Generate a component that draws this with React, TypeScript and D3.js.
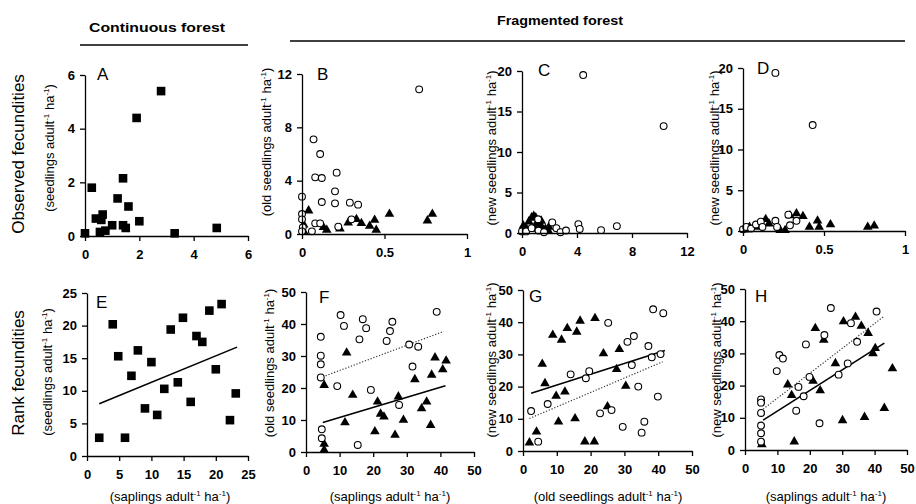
import React, { useEffect, useRef } from 'react';
import * as d3 from 'd3';

type Pt = [number, number];

// ---- data ----
// A: continuous forest, observed (saplings vs seedlings)
const aSquares: Pt[] = [
  [0.0, 0.1], [0.25, 1.8], [0.4, 0.65], [0.6, 0.6], [0.65, 0.8], [0.55, 0.15], [0.75, 0.2],
  [1.0, 0.4], [1.2, 1.4], [1.4, 2.15], [1.4, 0.4], [1.5, 0.3], [1.6, 1.1], [1.9, 4.4],
  [2.0, 0.55], [2.8, 5.4], [3.3, 0.1], [4.85, 0.3],
];

// B: fragmented, saplings vs old seedlings
const bCircles: Pt[] = [
  [0, 2.8], [0, 1.5], [0, 1.1], [0.005, 0.5], [0, 0.2], [0.07, 7.1], [0.08, 4.25], [0.11, 6.0],
  [0.12, 4.2], [0.12, 2.4], [0.08, 0.8], [0.11, 0.8], [0.06, 0.2], [0.21, 4.6], [0.2, 3.2],
  [0.2, 2.3], [0.22, 0.55], [0.29, 2.35], [0.34, 2.2], [0.3, 1.1], [0.71, 10.85],
];
const bTriangles: Pt[] = [
  [0.04, 1.75], [0.01, 0.7], [0.01, 0.2], [0.13, 0.5], [0.15, 0.3], [0.23, 0.4], [0.28, 0.85],
  [0.33, 1.1], [0.36, 0.8], [0.41, 0.6], [0.44, 1.05], [0.45, 0.3], [0.53, 1.5], [0.76, 1.0],
  [0.79, 1.5],
];

// C: old seedlings vs new seedlings
const cCircles: Pt[] = [
  [4.45, 19.5], [10.3, 13.2], [0, 0.2], [0.3, 0.2], [1.17, 1.7], [0.7, 0.6], [1.2, 0.3],
  [2.2, 1.3], [2.5, 0.6], [2.8, 0.1], [3.2, 0.3], [4.1, 1.1], [4.2, 0.5], [5.75, 0.35],
  [6.9, 0.85], [1.6, 0.1],
];
const cTriangles: Pt[] = [
  [0.05, 0.2], [0.3, 0.6], [0.5, 1.4], [0.7, 1.9], [0.85, 2.1], [1.0, 1.9], [1.25, 1.1],
  [1.45, 0.7], [1.7, 0.5], [1.9, 0.3], [0.65, 0.5], [0.95, 0.9], [1.4, 1.5], [1.95, 0.75],
  [0.1, 0.9],
];

// D: saplings vs new seedlings
const dCircles: Pt[] = [
  [0.2, 19.4], [0.43, 13.0], [0, 0.2], [0.02, 0.5], [0.05, 0.3], [0.08, 0.8], [0.11, 1.15],
  [0.12, 0.5], [0.2, 1.25], [0.21, 0.5], [0.29, 0.7], [0.33, 1.25], [0.28, 2.0],
];
const dTriangles: Pt[] = [
  [0.01, 0.15], [0.04, 0.5], [0.09, 0.5], [0.14, 1.45], [0.16, 0.9], [0.23, 0.1], [0.26, 0.1],
  [0.29, 1.9], [0.33, 2.15], [0.37, 1.8], [0.41, 0.5], [0.46, 1.25], [0.47, 0.5], [0.54, 0.8],
  [0.77, 0.5], [0.81, 0.65],
];

// E: continuous forest, ranks
const eSquares: Pt[] = [
  [1.9, 2.8], [4.0, 20.2], [4.85, 15.3], [5.9, 2.8], [6.9, 12.3], [7.9, 16.2], [9.0, 7.3],
  [10.0, 14.4], [10.9, 6.3], [12.0, 10.3], [13.0, 19.4], [14.1, 11.3], [14.9, 21.2], [16.1, 8.3],
  [17.0, 18.4], [17.9, 17.5], [19.0, 22.3], [20.0, 13.3], [20.9, 23.3], [22.2, 5.5], [23.1, 9.6],
];
const eFit: Pt[] = [[1.9, 8.0], [23.3, 16.7]];

// F: ranks, saplings vs old seedlings
const fCircles: Pt[] = [
  [4.4, 36.0], [4.4, 30.1], [4.4, 27.4], [4.4, 23.3], [4.7, 7.1], [4.7, 4.3], [9.3, 20.6],
  [10.3, 42.8], [11.3, 39.4], [15.4, 2.2], [15.9, 35.2], [16.9, 41.5], [17.9, 38.7], [19.3, 19.4],
  [24.0, 34.7], [25.0, 37.8], [25.7, 40.7], [27.7, 14.7], [30.7, 33.6], [31.7, 26.7], [33.4, 32.9],
  [38.9, 43.8],
];
const fTriangles: Pt[] = [
  [5.4, 20.9], [5.4, 2.5], [5.4, 0.6], [12.1, 31.0], [13.9, 17.8], [11.6, 9.2], [20.5, 6.4],
  [21.3, 15.7], [22.2, 11.9], [23.2, 11.0], [26.5, 5.3], [27.5, 17.3], [29.0, 10.0], [32.4, 22.7],
  [34.4, 13.6], [35.9, 15.7], [37.1, 8.4], [37.4, 24.1], [38.4, 29.5], [40.7, 25.8], [41.7, 28.5],
];
const fFitSolid: Pt[] = [[5, 9.2], [41.5, 20.7]];
const fFitDotted: Pt[] = [[5, 23.5], [41, 37.7]];

// G: ranks, old seedlings vs new seedlings
const gCircles: Pt[] = [
  [2.4, 12.4], [4.5, 2.9], [7.3, 14.6], [14.1, 23.8], [18.6, 22.6], [19.6, 24.8], [22.8, 11.7],
  [26.2, 12.7], [25.2, 39.8], [29.5, 7.5], [30.9, 33.9], [32.2, 26.7], [32.8, 35.7], [34.1, 20.0],
  [35.1, 5.7], [35.9, 9.1], [37.1, 32.6], [38.1, 29.1], [38.5, 44.0], [39.9, 16.9], [41.5, 42.8],
  [40.7, 30.1],
];
const gTriangles: Pt[] = [
  [1.9, 2.6], [4.0, 6.0], [5.7, 27.0], [6.5, 21.0], [8.8, 36.0], [9.8, 17.1], [10.5, 9.1],
  [11.4, 34.5], [12.4, 18.4], [13.1, 38.1], [15.4, 10.1], [15.9, 37.0], [16.9, 40.4], [18.3, 2.9],
  [21.1, 2.9], [21.3, 41.2], [23.8, 30.3], [25.0, 13.8], [27.7, 25.4], [28.5, 31.6], [30.4, 20.2],
];
const gFitSolid: Pt[] = [[2.4, 17.9], [42, 31.2]];
const gFitDotted: Pt[] = [[1.9, 10.1], [41.3, 27.7]];

// H: ranks, saplings vs new seedlings
const hCircles: Pt[] = [
  [4.95, 15.7], [4.95, 14.7], [4.95, 11.5], [4.95, 7.6], [4.95, 5.2], [4.95, 2.6], [9.8, 24.5],
  [10.6, 29.5], [11.7, 28.4], [15.8, 12.2], [16.5, 19.6], [18.1, 16.7], [18.8, 32.8], [19.9, 22.7],
  [23.0, 8.3], [24.5, 35.7], [26.5, 44.1], [28.9, 23.4], [31.7, 26.9], [32.7, 39.4], [34.6, 33.6],
  [40.6, 43.0],
];
const hTriangles: Pt[] = [
  [5.2, 1.7], [15.2, 2.6], [13.2, 20.3], [14.4, 17.0], [21.0, 21.4], [23.2, 18.5], [21.7, 37.8],
  [24.3, 34.2], [27.9, 26.9], [30.1, 9.2], [30.4, 39.9], [34.1, 41.3], [35.9, 38.5], [38.0, 36.3],
  [36.9, 10.2], [39.5, 30.0], [40.2, 31.6], [43.0, 13.0], [45.5, 25.3],
];
const hFitSolid: Pt[] = [[5.6, 9.3], [43, 33.2]];
const hFitDotted: Pt[] = [[5.6, 12.7], [43, 41.6]];

// ticks
const ticks0to6 = [0, 2, 4, 6];
const ticksFrac = [0, 0.5, 1];
const ticksB = [0, 4, 8, 12];
const ticksC = [0, 4, 8, 12];
const ticks0to20 = [0, 5, 10, 15, 20];
const ticks0to25 = [0, 5, 10, 15, 20, 25];
const ticks0to50 = [0, 10, 20, 30, 40, 50];

const FONT = '"Liberation Sans", Arial, Helvetica, sans-serif';

const App = () => {
  const ref = useRef<SVGSVGElement>(null);

  useEffect(() => {
    const svg = d3.select(ref.current);
    svg.selectAll('*').remove();

    // superscript helper: "(xxx adult-1 ha-1)"
    const unitText = (t: any, prefix: string) => {
      t.append('tspan').text(prefix + ' adult');
      t.append('tspan').text('-1').attr('font-size', 8).attr('dy', -5);
      t.append('tspan').text(' ha').attr('dy', 5);
      t.append('tspan').text('-1').attr('font-size', 8).attr('dy', -5);
      t.append('tspan').text(')').attr('dy', 5);
    };

    const panels = [
      { id: 'A', box: [85, 248, 75, 236], xMax: 6, yMax: 6, xt: ticks0to6, yt: ticks0to6, squares: aSquares,
        ylab: '(seedlings', ylx: 54, yly: 148, lx: 97, ly: 80 },
      { id: 'B', box: [302, 467, 74, 234], xMax: 1, yMax: 12, xt: ticksFrac, yt: ticksB, circles: bCircles, triangles: bTriangles,
        ylab: '(old seedlings', ylx: 271, yly: 142, lx: 317, ly: 80 },
      { id: 'C', box: [522, 687, 71, 233], xMax: 12, yMax: 20, xt: ticksC, yt: ticks0to20, circles: cCircles, triangles: cTriangles,
        ylab: '(new seedlings', ylx: 496, yly: 148, lx: 538, ly: 76 },
      { id: 'D', box: [743, 905, 68, 231], xMax: 1, yMax: 20, xt: ticksFrac, yt: ticks0to20, circles: dCircles, triangles: dTriangles,
        ylab: '(new seedlings', ylx: 719, yly: 148, lx: 757, ly: 74 },
      { id: 'E', box: [87, 248, 293, 456], xMax: 25, yMax: 25, xt: ticks0to25, yt: ticks0to25, squares: eSquares, solid: eFit,
        ylab: '(seedlings', ylx: 52, yly: 372, lx: 96, ly: 308, xlab: '(saplings', xlx: 170 },
      { id: 'F', box: [306, 474, 292, 452], xMax: 50, yMax: 50, xt: ticks0to50, yt: ticks0to50, circles: fCircles, triangles: fTriangles,
        solid: fFitSolid, dotted: fFitDotted,
        ylab: '(old seedlings', ylx: 274, yly: 363, lx: 319, ly: 303, xlab: '(saplings', xlx: 390 },
      { id: 'G', box: [523, 692, 290, 451], xMax: 50, yMax: 50, xt: ticks0to50, yt: ticks0to50, circles: gCircles, triangles: gTriangles,
        solid: gFitSolid, dotted: gFitDotted,
        ylab: '(new seedlings', ylx: 496, yly: 360, lx: 529, ly: 302, xlab: '(old seedlings', xlx: 608 },
      { id: 'H', box: [745, 907, 289, 450], xMax: 50, yMax: 50, xt: ticks0to50, yt: ticks0to50, circles: hCircles, triangles: hTriangles,
        solid: hFitSolid, dotted: hFitDotted,
        ylab: '(new seedlings', ylx: 721, yly: 360, lx: 755, ly: 302, xlab: '(saplings', xlx: 826 },
    ];

    const styleAxis = (g: any) => {
      g.select('.domain').attr('stroke', '#000').attr('stroke-width', 1.3);
      g.selectAll('.tick line').attr('stroke', '#000').attr('stroke-width', 1.3);
      g.selectAll('.tick text')
        .attr('fill', '#000')
        .style('font-family', FONT)
        .style('font-size', '13px')
        .style('font-weight', 'bold');
    };

    const tri = d3.symbol().type(d3.symbolTriangle).size(40);

    panels.forEach((p: any) => {
      const [l, r, t, b] = p.box;
      const x = d3.scaleLinear().domain([0, p.xMax]).range([l, r]);
      const y = d3.scaleLinear().domain([0, p.yMax]).range([b, t]);
      const g = svg.append('g');

      // fit lines
      const line = d3.line<Pt>().x((d) => x(d[0])).y((d) => y(d[1]));
      if (p.dotted) {
        g.append('path').attr('d', line(p.dotted)).attr('fill', 'none')
          .attr('stroke', '#333').attr('stroke-width', 1.2).attr('stroke-dasharray', '1.2,1.8');
      }
      if (p.solid) {
        g.append('path').attr('d', line(p.solid)).attr('fill', 'none')
          .attr('stroke', '#000').attr('stroke-width', 1.6);
      }

      if (p.squares) {
        g.selectAll('rect.sq').data(p.squares).enter().append('rect')
          .attr('x', (d: Pt) => x(d[0]) - 4.3).attr('y', (d: Pt) => y(d[1]) - 4.3)
          .attr('width', 8.6).attr('height', 8.6).attr('fill', '#000');
      }
      if (p.triangles) {
        g.selectAll('path.tri').data(p.triangles).enter().append('path')
          .attr('d', tri as any)
          .attr('transform', (d: Pt) => `translate(${x(d[0])},${y(d[1])})`)
          .attr('fill', '#000');
      }
      if (p.circles) {
        g.selectAll('circle').data(p.circles).enter().append('circle')
          .attr('cx', (d: Pt) => x(d[0])).attr('cy', (d: Pt) => y(d[1])).attr('r', 3.4)
          .attr('fill', '#fff').attr('stroke', '#000').attr('stroke-width', 1.1);
      }

      // axes
      g.append('g').attr('transform', `translate(0,${b})`)
        .call(d3.axisBottom(x).tickValues(p.xt).tickSize(5).tickSizeOuter(0).tickPadding(9).tickFormat((d: any) => `${d}`))
        .call(styleAxis);
      g.append('g').attr('transform', `translate(${l},0)`)
        .call(d3.axisLeft(y).tickValues(p.yt).tickSize(5).tickSizeOuter(0).tickPadding(5).tickFormat((d: any) => `${d}`))
        .call(styleAxis);

      // panel letter
      g.append('text').attr('x', p.lx).attr('y', p.ly).text(p.id)
        .attr('font-family', FONT).attr('font-size', 17).attr('fill', '#000');

      // y title
      const yt = g.append('text').attr('transform', `translate(${p.ylx},${p.yly}) rotate(-90)`)
        .attr('text-anchor', 'middle').attr('font-family', FONT).attr('font-size', 13).attr('fill', '#000');
      unitText(yt, p.ylab);

      if (p.xlab) {
        const xt = g.append('text').attr('x', p.xlx).attr('y', 501).attr('text-anchor', 'middle')
          .attr('font-family', FONT).attr('font-size', 13).attr('fill', '#000');
        unitText(xt, p.xlab);
      }
    });

    // row titles
    svg.append('text').attr('transform', 'translate(24,154) rotate(-90)').attr('text-anchor', 'middle')
      .attr('font-family', FONT).attr('font-size', 17).text('Observed fecundities');
    svg.append('text').attr('transform', 'translate(24,373) rotate(-90)').attr('text-anchor', 'middle')
      .attr('font-family', FONT).attr('font-size', 17).text('Rank fecundities');

    // group headers
    svg.append('text').attr('x', 157).attr('y', 32).attr('text-anchor', 'middle')
      .attr('font-family', FONT).attr('font-size', 13).attr('font-weight', 'bold')
      .attr('textLength', 136).attr('lengthAdjust', 'spacingAndGlyphs').text('Continuous forest');
    svg.append('line').attr('x1', 80).attr('x2', 248).attr('y1', 45).attr('y2', 45)
      .attr('stroke', '#000').attr('stroke-width', 1.4);
    svg.append('text').attr('x', 560).attr('y', 25).attr('text-anchor', 'middle')
      .attr('font-family', FONT).attr('font-size', 13).attr('font-weight', 'bold')
      .attr('textLength', 126).attr('lengthAdjust', 'spacingAndGlyphs').text('Fragmented forest');
    svg.append('line').attr('x1', 290).attr('x2', 905).attr('y1', 41).attr('y2', 41)
      .attr('stroke', '#000').attr('stroke-width', 1.4);
  }, []);

  return (
    <svg
      ref={ref}
      width={916}
      height={504}
      style={{ position: 'absolute', left: 0, top: 0, background: '#fff' }}
    />
  );
};

export default App;
